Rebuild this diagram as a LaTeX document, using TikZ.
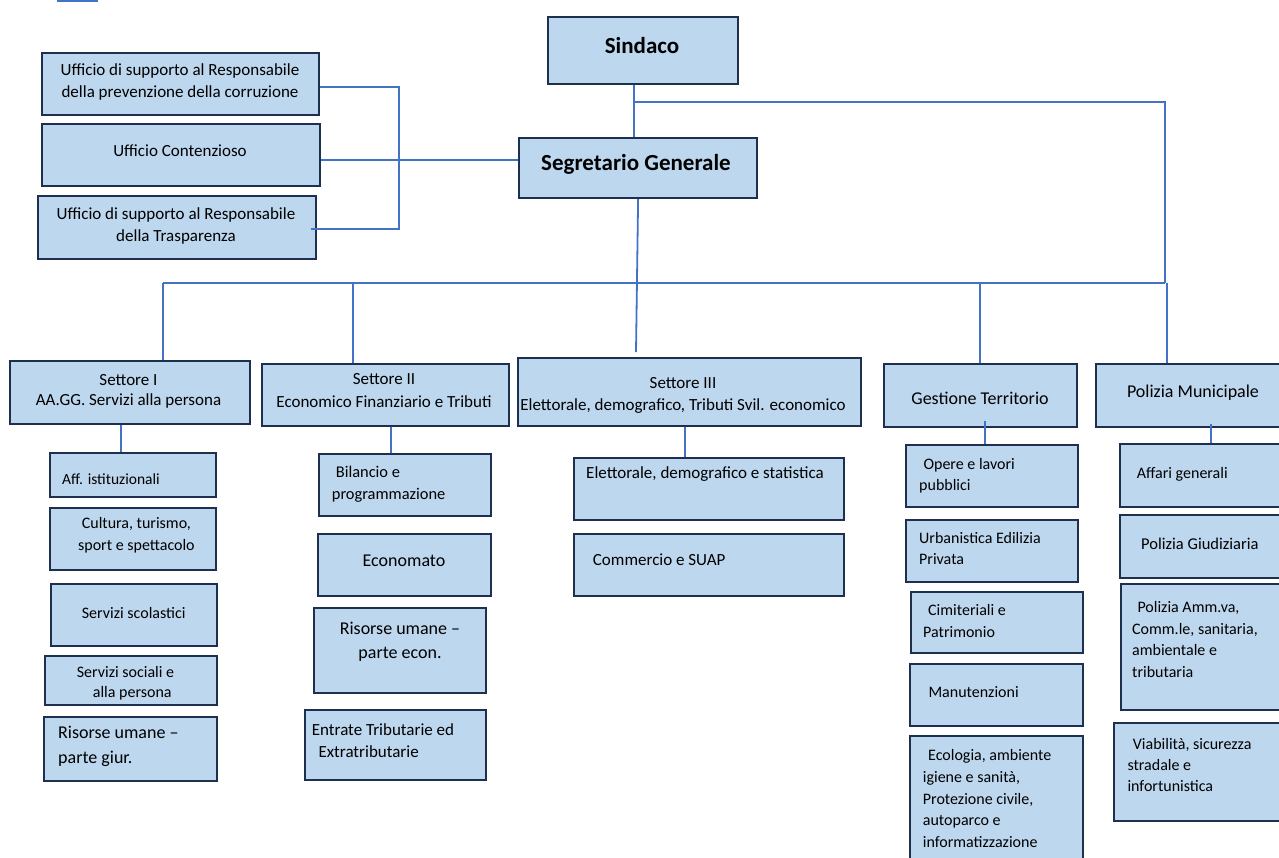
\documentclass[tikz,border=0pt]{standalone}
\usepackage{fontspec}
\setmainfont{Carlito}
\usetikzlibrary{calc}
\definecolor{boxfill}{HTML}{BDD7EE}
\definecolor{boxline}{HTML}{1F2F4F}
\definecolor{connblue}{HTML}{4472C4}
\newcommand\obox[5]{\node[box, anchor=north west, minimum width={(#4-#2)*1pt}, minimum height={(#5-#3)*1pt}] (#1) at (#2,#3) {};}
\newcommand\fs[2]{\fontsize{#1}{#2}\selectfont}
\tikzset{
  box/.style={draw=boxline, fill=boxfill, line width=2.2pt, inner sep=0pt, rectangle},
  conn/.style={draw=connblue, line width=1.8pt},
  lbl/.style={inner sep=0pt, text=black, yshift=-3pt, execute at begin node=\strut},
}
\begin{document}
\begin{tikzpicture}[x=1pt,y=-1pt]
\useasboundingbox (0,0) rectangle (1279,857);
\clip (0,0) rectangle (1279,857);

% boxes
\obox{sind}{547}{16}{737}{83}
\obox{segr}{518}{137}{756}{197}
\obox{u1}{41}{52}{318}{114}
\obox{u2}{41}{123}{319}{185}
\obox{u3}{37}{195}{315}{258}
\obox{s1}{9}{360}{249}{423}
\obox{s2}{261}{363}{508}{425}
\obox{s3}{517}{357}{860}{425}
\obox{gt}{883}{363}{1076}{426}
\obox{pm}{1095}{363}{1295}{426}
\obox{a1}{49}{452}{215}{496}
\obox{a2}{49}{507}{215}{569}
\obox{a3}{50}{583}{216}{645}
\obox{a4}{44}{655}{216}{704}
\obox{a5}{43}{716}{216}{780}
\obox{b1}{318}{453}{490}{515}
\obox{b2}{317}{533}{490}{595}
\obox{b3}{313}{607}{485}{692}
\obox{b4}{304}{709}{485}{779}
\obox{c1}{573}{457}{843}{519}
\obox{c2}{573}{533}{843}{595}
\obox{d1}{905}{444}{1077}{506}
\obox{d2}{905}{519}{1077}{581}
\obox{d3}{910}{591}{1082}{652}
\obox{d4}{909}{663}{1082}{725}
\obox{d5}{909}{735}{1082}{875}
\obox{e1}{1119}{443}{1295}{506}
\obox{e2}{1119}{514}{1295}{577}
\obox{e3}{1120}{583}{1295}{709}
\obox{e4}{1113}{722}{1295}{820}

% junction coordinates
\coordinate (jA) at (634,102);
\coordinate (jB) at (1165,102);
\coordinate (jC) at (1165,283);
\coordinate (jD) at (163,283);
\coordinate (jE) at (1167,283);
\coordinate (jF) at (353,283);
\coordinate (jG) at (980,283);
\coordinate (jS) at (636,352);
\coordinate (jL1) at (399,87);
\coordinate (jL2) at (399,229);
\coordinate (jU) at (400,160);
\coordinate (k1) at (121,0);
\coordinate (k2) at (391,0);
\coordinate (k3) at (685,0);
\coordinate (k4) at (985,0);
\coordinate (k5) at (1211,0);
\coordinate (tl1) at (57,1);
\coordinate (tl2) at (98,1);

% connectors
\draw[conn] (tl1) -- (tl2);
\draw[conn] (sind.south -| jA) -- (segr.north -| jA);
\draw[conn] (jA) -- (jB) -- (jC);
\draw[conn] (jD) -- (jC);
\draw[conn] (segr.south) -- (jS);
\draw[conn] (jD) -- (s1.north -| jD);
\draw[conn] (jF) -- (s2.north -| jF);
\draw[conn] (jG) -- (gt.north -| jG);
\draw[conn] (jE) -- (pm.north -| jE);
\draw[conn] (u1.east |- jL1) -- (jL1) -- (jL2) -- ($(u3.east |- jL2)+(-6,0)$);
\draw[conn] (u2.east |- jU) -- (segr.west |- jU);
\draw[conn] (s1.south -| k1) -- (a1.north -| k1);
\draw[conn] (s2.south -| k2) -- (b1.north -| k2);
\draw[conn] (s3.south -| k3) -- (c1.north -| k3);
\draw[conn] ($(gt.south -| k4)+(0,-7)$) -- (d1.north -| k4);
\draw[conn] ($(pm.south -| k5)+(0,-4)$) -- (e1.north -| k5);

% texts
\node[lbl, font=\fs{23}{28}\bfseries, anchor=north] (t-sind) at (642,31) {Sindaco};
\node[lbl, font=\fs{23}{28}\bfseries, anchor=north] (t-segr) at (636,148) {Segretario Generale};
\node[lbl, font=\fs{17}{22.3}, align=center, anchor=north] (t-u1) at (180,60.4) {Ufficio di supporto al Responsabile\\della prevenzione della corruzione};
\node[lbl, font=\fs{17}{22}, anchor=north] (t-u2) at (180,138) {Ufficio Contenzioso};
\node[lbl, font=\fs{17}{22.4}, align=center, anchor=north] (t-u3) at (176,204) {Ufficio di supporto al Responsabile\\della Trasparenza};
\node[lbl, font=\fs{17}{20}, align=center, anchor=north] (t-s1) at (128.5,371) {Settore I\\AA.GG. Servizi alla persona};
\node[lbl, font=\fs{17}{23}, align=center, anchor=north] (t-s2) at (384,370.6) {Settore II\\Economico Finanziario e Tributi};
\node[lbl, font=\fs{17}{22}, align=center, anchor=north] (t-s3) at (683,374) {Settore III\\Elettorale, demografico, Tributi Svil. economico};
\node[lbl, font=\fs{18}{22}, anchor=north] (t-gt) at (980,385.6) {Gestione Territorio};
\node[lbl, font=\fs{18}{22}, anchor=north] (t-pm) at (1193,378.6) {Polizia Municipale};

\node[lbl, font=\fs{15.5}{20}, anchor=north west] (t-a1) at (62,467.7) {Aff. istituzionali};
\node[lbl, font=\fs{16}{21.7}, align=center, anchor=north] (t-a2) at (136.4,514) {Cultura, turismo,\\sport e spettacolo};
\node[lbl, font=\fs{16}{22}, anchor=north] (t-a3) at (133.7,599.6) {Servizi scolastici};
\node[lbl, font=\fs{16}{20}, align=left, anchor=north west] (t-a4) at (76.7,662.7) {Servizi sociali e\\\hspace*{16pt}alla persona};
\node[lbl, font=\fs{18}{25}, align=left, anchor=north west] (t-a5) at (58,722.5) {Risorse umane –\\parte giur.};

\node[lbl, font=\fs{16.4}{21.7}, align=left, anchor=north west] (t-b1) at (331.7,463) {\hspace*{4pt}Bilancio e\\programmazione};
\node[lbl, font=\fs{18}{22}, anchor=north] (t-b2) at (404,548) {Economato};
\node[lbl, font=\fs{18}{24}, align=center, anchor=north] (t-b3) at (400,619.2) {Risorse umane –\\parte econ.};
\node[lbl, font=\fs{17}{22.6}, align=left, anchor=north west] (t-b4) at (311.7,720) {Entrate Tributarie ed\\\hspace*{6.6pt}Extratributarie};

\node[lbl, font=\fs{17}{22}, anchor=north west] (t-c1) at (586,460.3) {Elettorale, demografico e statistica};
\node[lbl, font=\fs{17}{22}, anchor=north west] (t-c2) at (592.7,547) {Commercio e SUAP};

\node[lbl, font=\fs{16}{20.7}, align=left, anchor=north west] (t-d1) at (919,455.5) {\hspace*{4.3pt}Opere e lavori\\pubblici};
\node[lbl, font=\fs{16}{21.7}, align=left, anchor=north west] (t-d2) at (919,528.8) {Urbanistica Edilizia\\Privata};
\node[lbl, font=\fs{16}{21.7}, align=left, anchor=north west] (t-d3) at (923,601.5) {\hspace*{5pt}Cimiteriali e\\Patrimonio};
\node[lbl, font=\fs{16}{22}, anchor=north west] (t-d4) at (928.3,678.8) {Manutenzioni};
\node[lbl, font=\fs{16}{21.7}, align=left, anchor=north west] (t-d5) at (922.7,746.5) {\hspace*{5.3pt}Ecologia, ambiente\\igiene e sanità,\\Protezione civile,\\autoparco e\\informatizzazione};

\node[lbl, font=\fs{16}{22}, anchor=north west] (t-e1) at (1136.7,459.8) {Affari generali};
\node[lbl, font=\fs{16.5}{22}, anchor=north west] (t-e2) at (1141,530.6) {Polizia Giudiziaria};
\node[lbl, font=\fs{16}{21.7}, align=left, anchor=north west] (t-e3) at (1132,598.1) {\hspace*{5.3pt}Polizia Amm.va,\\Comm.le, sanitaria,\\ambientale e\\tributaria};
\node[lbl, font=\fs{16}{20.8}, align=left, anchor=north west] (t-e4) at (1127.3,735.4) {\hspace*{5.4pt}Viabilità, sicurezza\\stradale e\\infortunistica};
\end{tikzpicture}
\end{document}
